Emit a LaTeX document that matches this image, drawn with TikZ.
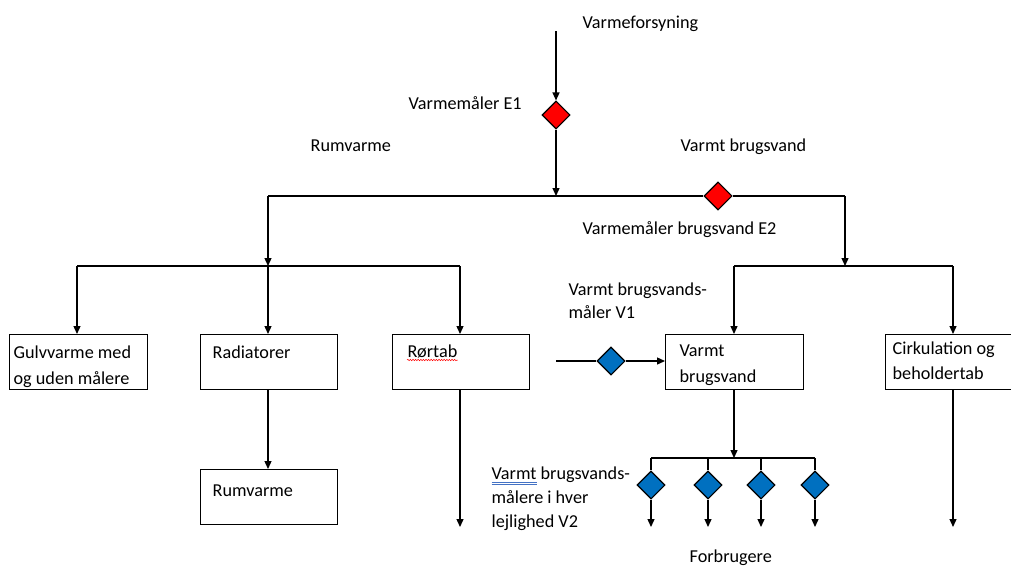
\documentclass[tikz,border=0pt]{standalone}
\usepackage{fontspec}
\setmainfont{Carlito}
\usetikzlibrary{arrows.meta,shapes.geometric,decorations.pathmorphing}
\definecolor{mred}{HTML}{FF0000}
\definecolor{mblue}{HTML}{0070C0}
\definecolor{ulblue}{HTML}{4472C4}
\begin{document}
\begin{tikzpicture}[x=1pt,y=-1pt,
  line width=1.3pt,
  txt/.style={anchor=base west, inner sep=0pt, font=\fontsize{18.2}{25}\selectfont},
  box/.style={draw, rectangle, anchor=north west, inner sep=0pt},
  meter/.style={draw, shape=diamond, inner sep=0pt, minimum width=28pt, minimum height=28pt, line width=1.1pt},
  arr/.style={-{Triangle[length=8pt,width=7pt]}},
  squiggle/.style={draw=red, line width=0.5pt, decorate, decoration={snake, amplitude=0.7pt, segment length=2.6pt}}
]
\useasboundingbox (0,0) rectangle (1011,565);

% boxes
\node[box, minimum width=138pt, minimum height=55pt] (gulv) at (9,334) {};
\node[box, minimum width=137pt, minimum height=55pt] (rad)  at (200,334) {};
\node[box, minimum width=137pt, minimum height=55pt] (ror)  at (392,334) {};
\node[box, minimum width=137pt, minimum height=55pt] (rum)  at (200,469) {};
\node[box, minimum width=138pt, minimum height=55pt] (vbv)  at (665,334) {};
\node[box, minimum width=140pt, minimum height=55pt] (cirk) at (885,334) {};

% box texts (descenders of the last lines are cut by the frame)
\node[txt] (t-gulv1) at (13,358) {Gulvvarme med};
\begin{scope}
  \clip (10,335) rectangle (146,388);
  \node[txt] (t-gulv2) at (13,384) {og uden målere};
\end{scope}
\node[txt] (t-rad) at (212,358) {Radiatorer};
\node[txt] (t-ror) at (407,357) {Rørtab};
\draw[squiggle] ([yshift=-3pt]t-ror.base west) -- ([yshift=-3pt]t-ror.base east);
\node[txt] (t-rum) at (212,496) {Rumvarme};
\node[txt] (t-vbv1) at (679,356) {Varmt};
\begin{scope}
  \clip (666,335) rectangle (802,387.5);
  \node[txt] (t-vbv2) at (679,382) {brugsvand};
\end{scope}
\node[txt] (t-cirk1) at (892,354) {Cirkulation og};
\node[txt] (t-cirk2) at (892,379) {beholdertab};

% free labels
\node[txt] (l-src) at (582,28) {Varmeforsyning};
\node[txt] (l-e1) at (408,109) {Varmemåler E1};
\node[txt] (l-rv) at (310,151) {Rumvarme};
\node[txt] (l-vb) at (680,151) {Varmt brugsvand};
\node[txt] (l-e2) at (582,234) {Varmemåler brugsvand E2};
\node[txt] (l-v1a) at (568,295) {Varmt brugsvands-};
\node[txt] (l-v1b) at (568,318) {måler V1};
\node[txt] (l-v2a) at (491,479) {\setbox0\hbox{Varmt}\rlap{\color{ulblue}\rule[-3.2pt]{\wd0}{0.5pt}}\rlap{\color{ulblue}\rule[-5.2pt]{\wd0}{0.5pt}}Varmt brugsvands-};
\node[txt] (l-v2b) at (491,503) {målere i hver};
\node[txt] (l-v2c) at (491,527) {lejlighed V2};
\node[txt] (l-use) at (689,562) {Forbrugere};

% supply and main meter
\coordinate (src) at (556,31);
\node[meter, fill=mred] (e1) at (556,115) {};
\draw[arr] (src) -- (e1.north);
\coordinate (hub) at (556,196);
\draw[arr] (e1.south) -- (hub);

% main distribution line with hot water meter E2
\coordinate (mainL) at (268,196);
\coordinate (mainR) at (845,196);
\node[meter, fill=mred] (e2) at (718,196) {};
\draw (mainL) -- (e2.west);
\draw (e2.east) -- (mainR);

% space heating branch
\coordinate (rvHub) at (268,266);
\coordinate (rvA) at (77,266);
\coordinate (rvC) at (460,266);
\draw[arr] (mainL) -- (rvHub);
\draw (rvA) -- (rvC);
\draw[arr] (rvA) -- (gulv.north -| rvA);
\draw[arr] (rvHub) -- (rad.north -| rvHub);
\draw[arr] (rvC) -- (ror.north -| rvC);
\draw[arr] (rad.south -| rvHub) -- (rum.north -| rvHub);
\coordinate (rorEnd) at (460,527);
\draw[arr] (ror.south -| rorEnd) -- (rorEnd);

% hot water branch
\coordinate (vbHub) at (845,266);
\coordinate (vbA) at (734,266);
\coordinate (vbC) at (953,266);
\draw[arr] (mainR) -- (vbHub);
\draw (vbA) -- (vbC);
\draw[arr] (vbA) -- (vbv.north -| vbA);
\draw[arr] (vbC) -- (cirk.north -| vbC);
\coordinate (cirkEnd) at (953,527);
\draw[arr] (cirk.south -| cirkEnd) -- (cirkEnd);

% water meter V1
\coordinate (v1in) at (556,361);
\node[meter, fill=mblue] (v1) at (611,361) {};
\draw (v1in) -- (v1.west);
\draw[arr] (v1.east) -- (vbv.west |- v1);

% apartment meters V2
\coordinate (aptHub) at (734,458);
\coordinate (aptA) at (651,458);
\coordinate (aptD) at (815,458);
\draw[arr] (vbv.south -| aptHub) -- (aptHub);
\draw (aptA) -- (aptD);
\foreach \i/\x in {1/651,2/708,3/761,4/815}{
  \node[meter, fill=mblue] (v2-\i) at (\x,485) {};
  \coordinate (use-\i) at (\x,527);
  \draw (\x,458) -- (v2-\i.north);
  \draw[arr] (v2-\i.south) -- (use-\i);
}
\end{tikzpicture}
\end{document}
